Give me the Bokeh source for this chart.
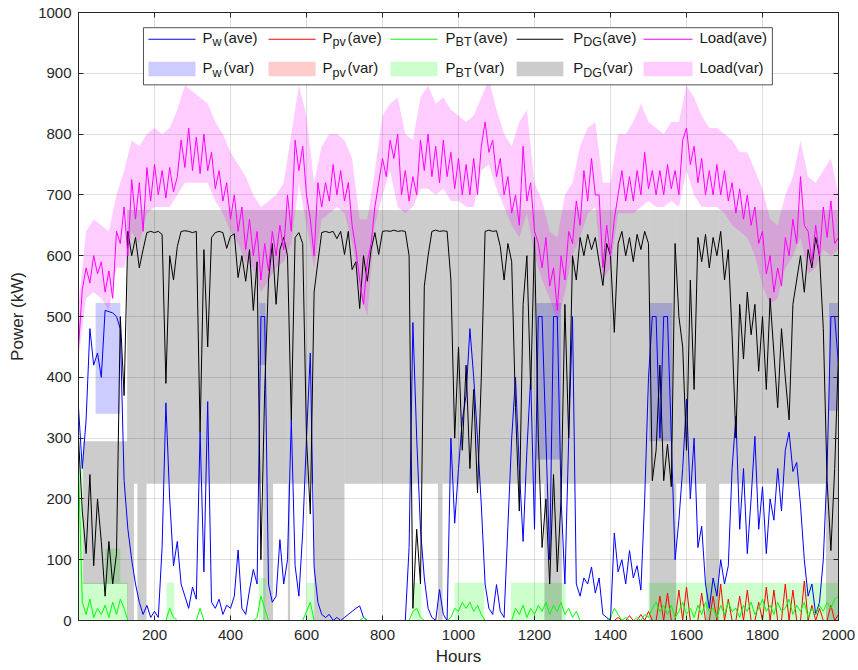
from bokeh.plotting import figure
from bokeh.models import Range1d, LinearAxis, FixedTicker, BoxAnnotation, Label, Arrow
from bokeh.embed import file_html
from bokeh.resources import INLINE

# ---------------- data ----------------
hours = list(range(0, 2001, 10))
band_hours = list(range(0, 2001, 20))

load_ave = [
    450, 545, 580, 555, 600, 570, 590, 540, 575, 530,
    640, 620, 680, 600, 725, 660, 720, 640, 745, 690,
    750, 700, 740, 695, 745, 705, 730, 790, 745, 810,
    740, 795, 735, 800, 740, 770, 710, 740, 690, 720,
    660, 700, 640, 680, 610, 660, 600, 640, 560, 620,
    575, 640, 600, 650, 610, 700, 640, 790, 740, 780,
    700, 660, 600, 720, 680, 720, 690, 750, 700, 740,
    690, 720, 650, 610, 560, 520, 590, 620, 680, 720,
    760, 730, 790, 760, 800, 700, 740, 690, 730, 700,
    790, 740, 800, 730, 780, 720, 790, 730, 770, 710,
    760, 700, 750, 700, 760, 700, 780, 820, 770, 790,
    730, 760, 700, 730, 670, 700, 650, 780, 690, 720,
    640, 620, 580, 630, 550, 580, 510, 600, 560, 640,
    620, 690, 650, 740, 690, 760, 700, 700, 580, 650,
    600, 660, 700, 740, 690, 730, 690, 740, 700, 770,
    710, 740, 700, 740, 700, 750, 710, 740, 700, 790,
    810, 750, 780, 720, 760, 700, 740, 700, 750, 700,
    740, 690, 720, 670, 710, 660, 700, 650, 680, 620,
    640, 570, 600, 540, 580, 550, 630, 600, 660, 620,
    730, 650, 640, 590, 650, 600, 680, 630, 690, 620,
    630]

load_var_hi = [
    520, 640, 660, 650, 640, 700, 740, 790, 780, 800,
    810, 800, 810, 840, 880, 870, 860, 850, 820, 800,
    770, 750, 730, 700, 680, 690, 700, 720, 800, 880,
    830, 720, 780, 800, 800, 790, 760, 660, 660, 740,
    830, 850, 860, 800, 790, 860, 880, 850, 860, 840,
    830, 820, 830, 860, 890, 840, 800, 780, 820, 840,
    720, 690, 640, 630, 700, 720, 780, 810, 820, 720,
    720, 800, 800, 820, 850, 820, 810, 800, 820, 820,
    880, 860, 830, 810, 810, 800, 790, 770, 770, 740,
    710, 660, 650, 700, 730, 790, 730, 720, 740, 760,
    700]

load_var_lo = [
    430, 530, 540, 530, 510, 580, 580, 640, 620, 670,
    680, 680, 680, 700, 720, 720, 720, 720, 690, 670,
    640, 620, 590, 580, 540, 560, 580, 590, 620, 720,
    650, 580, 660, 670, 680, 670, 620, 540, 500, 650,
    700, 740, 680, 670, 680, 710, 710, 700, 710, 690,
    690, 680, 680, 740, 750, 710, 680, 650, 630, 670,
    600, 560, 530, 490, 540, 600, 630, 670, 680, 560,
    580, 670, 670, 670, 680, 690, 680, 680, 690, 680,
    740, 700, 680, 680, 680, 670, 650, 640, 630, 600,
    550, 520, 530, 580, 600, 630, 570, 580, 610, 600,
    610]

dg_ave = [
    300, 180, 110, 240, 90, 200, 130, 40, 130, 60,
    110, 500, 370, 640, 600, 630, 580, 610, 638, 640,
    638, 640, 635, 390, 600, 560, 615, 640, 641, 640,
    638, 640, 310, 610, 450, 630, 638, 640, 638, 612,
    632, 636, 564, 600, 558, 610, 510, 590, 100, 380,
    560, 620, 520, 610, 630, 600, 330, 630, 638, 620,
    300, 175, 540, 590, 638, 640, 638, 640, 628, 640,
    602, 640, 577, 590, 513, 600, 558, 610, 638, 602,
    640, 641, 640, 642, 640, 641, 640, 600, 20, 150,
    60, 550, 600, 640, 642, 640, 641, 640, 560, 300,
    450, 280, 420, 250, 380, 210, 400, 640, 642, 640,
    641, 615, 560, 620, 590, 350, 180, 520, 600, 380,
    630, 300, 120, 200, 60, 240, 80, 200, 520, 300,
    600, 560, 630, 600, 635, 610, 630, 590, 551, 620,
    600, 474, 620, 640, 600, 630, 590, 635, 610, 640,
    620, 230, 280, 420, 230, 290, 220, 620, 500, 450,
    280, 560, 380, 630, 590, 635, 580, 630, 600, 640,
    560, 610, 470, 300, 520, 430, 540, 470, 520, 410,
    500, 380, 530, 440, 350, 480, 400, 330, 520, 560,
    600, 540, 610, 580, 630, 600, 480, 230, 115, 250,
    440]

pw_ave = [
    350, 250, 330, 480, 420, 440, 400, 510, 508, 506,
    500, 480, 230, 150, 100, 60, 30, 10, 25, 5,
    15, 5, 120, 358, 200, 90, 130, 60, 40, 20,
    55, 35, 310, 80, 360, 30, 20, 35, 10, 25,
    20, 40, 116, 20, 10, 50, 84, 60, 500, 500,
    60, 30, 40, 133, 60, 100, 330, 90, 40, 145,
    300, 440, 88, 30, 10, 5, 10, 0, 5, 0,
    5, 10, 15, 20, 24, 5, 0, 0, 0, 0,
    0, 0, 0, 0, 0, 0, 0, 120, 490, 300,
    150, 70, 20, 5, 0, 51, 10, 0, 300, 160,
    250, 330, 370, 480, 400, 300, 190, 60, 20, 10,
    59, 15, 5, 155, 300, 400, 250, 130, 280, 400,
    150, 500, 500, 300, 100, 500, 500, 200, 60, 300,
    500, 60, 40, 70, 60, 88, 45, 70, 10, 5,
    0, 144, 80, 100, 60, 115, 70, 90, 50, 200,
    400, 500, 500, 300, 500, 500, 300, 100, 165, 250,
    364, 200, 300, 120, 155, 60, 20, 70, 40, 100,
    60, 90, 250, 336, 150, 250, 110, 200, 303, 150,
    220, 110, 200, 165, 250, 180, 280, 310, 245, 260,
    190, 100, 40, 60, 10, 30, 100, 250, 500, 500,
    420]

pbt_ave = [
    250, 30, 10, 35, 5, 20, 10, 25, 5, 30,
    10, 35, 20, 0, 0, 0, 0, 0, 0, 0,
    0, 0, 0, 0, 20, 5, 0, 0, 0, 0,
    0, 0, 20, 0, 0, 0, 0, 0, 0, 0,
    0, 0, 0, 0, 0, 0, 0, 5, 40, 20,
    0, 0, 0, 0, 0, 0, 0, 0, 0, 0,
    15, 30, 0, 0, 0, 0, 0, 0, 0, 0,
    0, 0, 0, 0, 0, 5, 0, 0, 0, 0,
    0, 0, 0, 0, 0, 0, 0, 0, 15, 20,
    5, 0, 0, 0, 0, 0, 0, 0, 5, 20,
    15, 30, 20, 30, 15, 25, 10, 0, 0, 0,
    0, 0, 0, 0, 0, 20, 10, 25, 5, 20,
    10, 25, 15, 30, 10, 25, 15, 30, 10, 20,
    5, 15, 0, 0, 0, 0, 0, 0, 0, 0,
    5, 20, 10, 0, 5, 0, 0, 5, 0, 10,
    5, 20, 30, 15, 25, 10, 25, 5, 15, 30,
    10, 20, 5, 25, 10, 30, 15, 20, 5, 25,
    10, 30, 15, 20, 5, 25, 15, 30, 10, 20,
    35, 15, 25, 10, 30, 15, 20, 35, 10, 25,
    15, 30, 5, 20, 10, 25, 15, 30, 20, 35,
    40]

ppv_ave = [
    0, 0, 0, 0, 0, 0, 0, 0, 0, 0,
    0, 0, 0, 0, 0, 0, 0, 0, 0, 0,
    0, 0, 0, 0, 0, 0, 0, 0, 0, 0,
    0, 0, 0, 0, 0, 0, 0, 0, 0, 0,
    0, 0, 0, 0, 0, 0, 0, 0, 0, 0,
    0, 0, 0, 0, 0, 0, 0, 0, 0, 0,
    0, 0, 0, 0, 0, 0, 0, 0, 0, 0,
    0, 0, 0, 0, 0, 0, 0, 0, 0, 0,
    0, 0, 0, 0, 0, 0, 0, 0, 0, 0,
    0, 0, 0, 0, 0, 0, 0, 0, 0, 0,
    0, 0, 0, 0, 0, 0, 0, 0, 0, 0,
    0, 0, 0, 0, 0, 0, 0, 0, 0, 0,
    0, 0, 0, 0, 0, 0, 0, 0, 0, 0,
    0, 0, 0, 0, 0, 0, 0, 0, 0, 0,
    0, 0, 5, 0, 0, 8, 0, 0, 10, 0,
    15, 0, 0, 40, 0, 45, 0, 0, 50, 0,
    55, 0, 0, 0, 45, 0, 0, 40, 0, 60,
    0, 35, 0, 0, 40, 0, 50, 0, 0, 30,
    0, 55, 0, 50, 0, 0, 60, 0, 50, 0,
    0, 65, 0, 25, 0, 20, 0, 0, 25, 0,
    10]

# blocky variance regions: [start hour, end hour, low kW, high kW]
dg_var_start = [12, 128, 146, 155, 179, 486, 512, 551, 557, 620, 700, 946, 958, 1226, 1272, 1503, 1573, 1651, 1686, 1967]
dg_var_end   = [128, 146, 155, 179, 486, 512, 551, 557, 620, 700, 946, 958, 1226, 1272, 1503, 1573, 1651, 1686, 1967, 2000]
dg_var_low   = [60, 0, 225, 0, 225, 0, 225, 0, 225, 0, 225, 0, 225, 0, 225, 0, 225, 0, 225, 0]
dg_var_high  = [295, 675, 675, 675, 675, 675, 675, 675, 675, 675, 675, 675, 675, 675, 675, 675, 675, 675, 675, 675]

pw_var_start = [45, 476, 1205, 1502, 1975]
pw_var_end   = [110, 492, 1270, 1563, 2000]
pw_var_low   = [340, 420, 265, 295, 345]
pw_var_high  = [522, 522, 522, 522, 522]

bt_var_start = [0, 12, 70, 110, 232, 474, 600, 878, 990, 1138, 1500]
bt_var_end   = [12, 70, 110, 130, 252, 492, 620, 902, 1068, 1282, 2000]
bt_var_low   = [0, 0, 0, 0, 0, 0, 0, 0, 0, 0, 0]
bt_var_high  = [275, 62, 118, 62, 62, 70, 62, 62, 62, 62, 62]

x_ticks = [200, 400, 600, 800, 1000, 1200, 1400, 1600, 1800, 2000]
y_ticks = [0, 100, 200, 300, 400, 500, 600, 700, 800, 900, 1000]

legend_subs = ["w", "pv", "BT", "DG", ""]
legend_colors = ["#0000ff", "#ff0000", "#00ff00", "#000000", "#ff00ff"]

for arr in (load_ave, dg_ave, pw_ave, pbt_ave, ppv_ave):
    assert len(arr) == len(hours)
assert len(load_var_hi) == len(band_hours) == len(load_var_lo)

# ---------------- figure ----------------
FONT = "Liberation Sans"
INK = "#262626"

p = figure(width=858, height=670, output_backend="svg", toolbar_location=None,
           x_range=Range1d(0, 2000), y_range=Range1d(0, 1000),
           min_border_left=78, min_border_right=20, min_border_top=12, min_border_bottom=50)
p.background_fill_color = "white"
p.border_fill_color = "white"
p.outline_line_color = INK
p.outline_line_width = 1

for ax, ticks in ((p.xaxis[0], x_ticks), (p.yaxis[0], y_ticks)):
    ax.ticker = FixedTicker(ticks=ticks)
    ax.major_tick_in = 5
    ax.major_tick_out = 0
    ax.minor_tick_in = 0
    ax.minor_tick_out = 0
    ax.axis_line_color = INK
    ax.major_tick_line_color = INK
    ax.major_label_text_font = FONT
    ax.major_label_text_font_size = "15px"
    ax.major_label_text_color = INK
    ax.axis_label_text_font = FONT
    ax.axis_label_text_font_size = "17px"
    ax.axis_label_text_font_style = "normal"
    ax.axis_label_text_color = INK

p.xaxis.axis_label = "Hours"
p.yaxis.axis_label = "Power (kW)"
p.xaxis.major_label_standoff = 9
p.xaxis.axis_label_standoff = 4
p.yaxis.major_label_standoff = 7
p.yaxis.axis_label_standoff = 8

for loc, ticks in (("right", y_ticks), ("above", x_ticks)):
    ax2 = LinearAxis(ticker=FixedTicker(ticks=ticks), major_tick_in=5, major_tick_out=0,
                     minor_tick_in=0, minor_tick_out=0, major_label_standoff=0,
                     major_label_text_font_size="0px", axis_line_color=INK,
                     major_tick_line_color=INK)
    ax2.major_label_overrides = {t: "" for t in ticks}
    p.add_layout(ax2, loc)

p.xgrid.ticker = FixedTicker(ticks=x_ticks)
p.ygrid.ticker = FixedTicker(ticks=y_ticks)
for g in (p.xgrid[0], p.ygrid[0]):
    g.grid_line_color = INK
    g.grid_line_alpha = 0.15

# variance bands
p.quad(left=pw_var_start, right=pw_var_end, bottom=pw_var_low, top=pw_var_high,
       fill_color="#0000ff", fill_alpha=0.2, line_color=None)
p.quad(left=bt_var_start, right=bt_var_end, bottom=bt_var_low, top=bt_var_high,
       fill_color="#00ff00", fill_alpha=0.2, line_color=None)
p.quad(left=dg_var_start, right=dg_var_end, bottom=dg_var_low, top=dg_var_high,
       fill_color="#000000", fill_alpha=0.2, line_color=None)
p.varea(x=band_hours, y1=load_var_lo, y2=load_var_hi, fill_color="#ff00ff", fill_alpha=0.2)

# average lines
p.line(hours, pw_ave, line_color="#0000ff", line_width=1)
p.line(hours, ppv_ave, line_color="#ff0000", line_width=1)
p.line(hours, pbt_ave, line_color="#00ff00", line_width=1)
p.line(hours, dg_ave, line_color="#000000", line_width=1)
p.line(hours, load_ave, line_color="#ff00ff", line_width=1)

# ---------------- legend (2 rows x 5 columns, with subscripts) ----------------
p.add_layout(BoxAnnotation(left=171, right=1826, bottom=881, top=975,
                           fill_color="white", fill_alpha=1.0,
                           line_color=INK, line_alpha=1.0, line_width=0.8))
leg_x0 = [184, 500, 821, 1153, 1487]
leg_x1 = [308, 624, 945, 1276, 1616]
leg_tx = [326, 642, 966, 1302, 1634]
paren_off = [21, 25, 28, 29, 0]
row1_y, row2_y = 959, 909
line_y = 956
sw_bot, sw_top = 895, 919
LEGINK = "#1a1a1a"
for i in range(5):
    col = legend_colors[i]
    p.add_layout(Arrow(end=None, x_start=leg_x0[i], y_start=line_y, x_end=leg_x1[i], y_end=line_y,
                       line_color=col, line_width=1))
    p.add_layout(BoxAnnotation(left=leg_x0[i], right=leg_x1[i], bottom=sw_bot, top=sw_top,
                               fill_color=col, fill_alpha=0.2, line_color=None, line_alpha=0))
    for ry, suffix in ((row1_y, "(ave)"), (row2_y, "(var)")):
        if legend_subs[i]:
            p.add_layout(Label(x=leg_tx[i], y=ry, text="P", text_font=FONT, text_font_size="15px",
                               text_color=LEGINK, text_baseline="middle", text_align="left"))
            p.add_layout(Label(x=leg_tx[i], y=ry, x_offset=10, y_offset=-5, text=legend_subs[i],
                               text_font=FONT, text_font_size="12.5px", text_color=LEGINK,
                               text_baseline="middle", text_align="left"))
            p.add_layout(Label(x=leg_tx[i], y=ry, x_offset=paren_off[i], text=suffix,
                               text_font=FONT, text_font_size="15px", text_color=LEGINK,
                               text_baseline="middle", text_align="left"))
        else:
            p.add_layout(Label(x=leg_tx[i], y=ry, text="Load" + suffix, text_font=FONT,
                               text_font_size="15px", text_color=LEGINK,
                               text_baseline="middle", text_align="left"))

open("out.html", "w").write(file_html(p, INLINE))
